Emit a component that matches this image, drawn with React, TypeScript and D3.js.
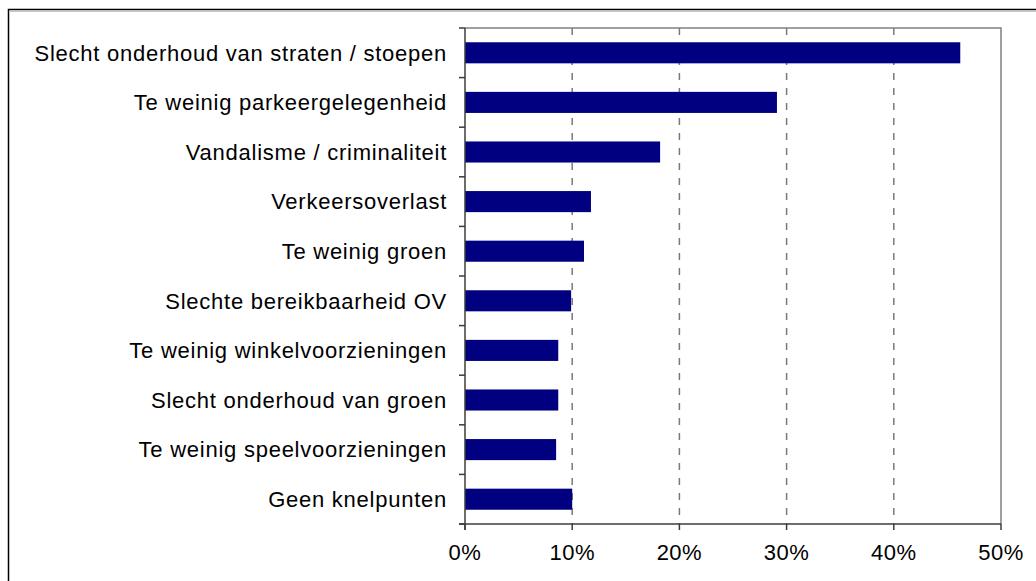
import React, { useEffect, useRef } from 'react';
import * as d3 from 'd3';

const categories = [
  'Slecht onderhoud van straten / stoepen',
  'Te weinig parkeergelegenheid',
  'Vandalisme / criminaliteit',
  'Verkeersoverlast',
  'Te weinig groen',
  'Slechte bereikbaarheid OV',
  'Te weinig winkelvoorzieningen',
  'Slecht onderhoud van groen',
  'Te weinig speelvoorzieningen',
  'Geen knelpunten',
];
const percentages = [46.2, 29.1, 18.2, 11.75, 11.1, 9.9, 8.7, 8.7, 8.5, 10.0];
const xTicks = [0, 10, 20, 30, 40, 50];

const W = 1036;
const H = 581;
const FONT = '"Liberation Sans", Arial, Helvetica, sans-serif';

function App() {
  const ref = useRef<SVGSVGElement>(null);

  useEffect(() => {
    const svg = d3.select(ref.current);
    svg.selectAll('*').remove();

    const left = 465, right = 1001, top = 28, bottom = 524;

    // outer frame (only top and left edges are in view)
    svg.append('rect')
      .attr('x', 8.5).attr('y', 9.5)
      .attr('width', W + 20).attr('height', H + 20)
      .attr('fill', '#fff')
      .attr('stroke', '#000')
      .attr('stroke-width', 1.5);
    svg.append('line')
      .attr('x1', 9).attr('x2', W).attr('y1', 11.5).attr('y2', 11.5)
      .attr('stroke', '#c8c8c8').attr('stroke-width', 1);

    const x = d3.scaleLinear().domain([0, 50]).range([left, right]);
    const y = d3.scaleBand<string>().domain(categories).range([top, bottom]).padding(0);
    const barH = y.bandwidth() * 0.425;

    // dashed gridlines
    svg.append('g')
      .selectAll('line')
      .data(xTicks.slice(1, -1))
      .join('line')
      .attr('x1', d => x(d)).attr('x2', d => x(d))
      .attr('y1', top).attr('y2', bottom)
      .attr('stroke', '#7a7a7a')
      .attr('stroke-width', 1.5)
      .attr('stroke-dasharray', '7,8');

    // plot border top/right
    svg.append('path')
      .attr('d', `M${left},${top}H${right}V${bottom}`)
      .attr('fill', 'none')
      .attr('stroke', '#808080')
      .attr('stroke-width', 1.5);

    // bars
    svg.append('g')
      .selectAll('rect')
      .data(percentages)
      .join('rect')
      .attr('x', x(0))
      .attr('y', (d, i) => (y(categories[i]) as number) + (y.bandwidth() - barH) / 2)
      .attr('width', d => x(d) - x(0))
      .attr('height', barH)
      .attr('fill', '#000080');

    // left axis
    const boundaries = categories.map(c => y(c) as number).concat([bottom]);
    const ax = svg.append('g').attr('stroke', '#3c3c3c').attr('stroke-width', 1.5);
    ax.append('line').attr('x1', left).attr('x2', left).attr('y1', top).attr('y2', bottom + 6);
    ax.selectAll('line.yt')
      .data(boundaries)
      .join('line')
      .attr('class', 'yt')
      .attr('x1', left - 6).attr('x2', left)
      .attr('y1', d => d).attr('y2', d => d);

    // bottom axis
    ax.append('line').attr('x1', left - 6).attr('x2', right).attr('y1', bottom).attr('y2', bottom);
    ax.selectAll('line.xt')
      .data(xTicks)
      .join('line')
      .attr('class', 'xt')
      .attr('x1', d => x(d)).attr('x2', d => x(d))
      .attr('y1', bottom).attr('y2', bottom + 6);

    // category labels
    svg.append('g')
      .selectAll('text')
      .data(categories)
      .join('text')
      .attr('x', left - 18)
      .attr('y', d => (y(d) as number) + y.bandwidth() / 2)
      .attr('dy', '0.35em')
      .attr('text-anchor', 'end')
      .attr('font-family', FONT)
      .attr('font-size', 22)
      .attr('letter-spacing', 0.75)
      .attr('fill', '#000')
      .text(d => d);

    // x tick labels
    svg.append('g')
      .selectAll('text')
      .data(xTicks)
      .join('text')
      .attr('x', d => x(d))
      .attr('y', bottom + 36)
      .attr('text-anchor', 'middle')
      .attr('font-family', FONT)
      .attr('font-size', 22)
      .attr('letter-spacing', 0.5)
      .attr('fill', '#000')
      .text(d => `${d}%`);
  }, []);

  return (
    <svg
      ref={ref}
      width={W}
      height={H}
      style={{ position: 'absolute', left: 0, top: 0, background: '#fff' }}
    />
  );
}

export default App;
